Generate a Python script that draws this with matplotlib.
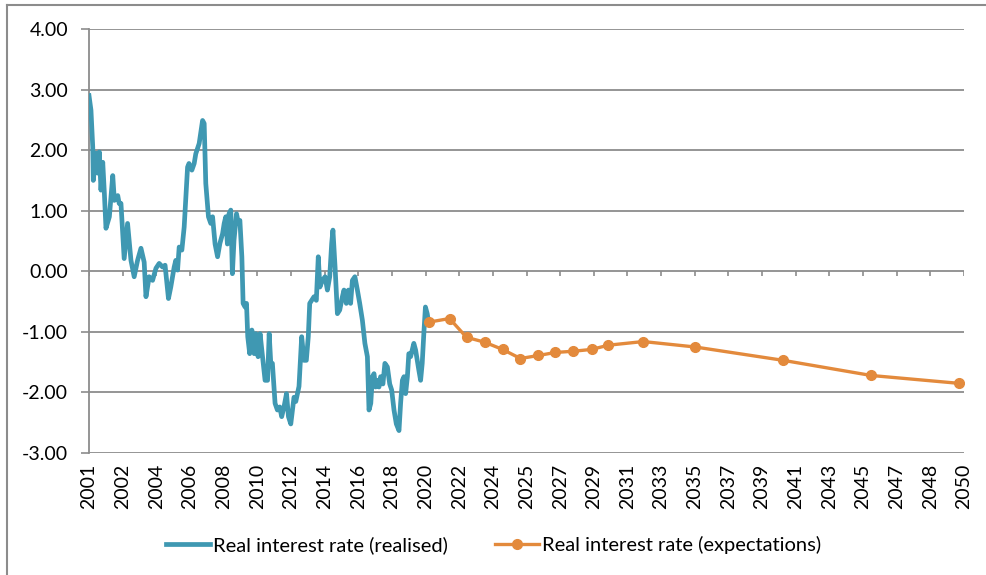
import numpy as np
import matplotlib.pyplot as plt
from matplotlib.lines import Line2D

# Realised real interest rate (decimal year, %)
real_t = [2001.00, 2001.11, 2001.21, 2001.24, 2001.39, 2001.49, 2001.58, 2001.67, 2001.77, 2001.86,
          2001.95, 2002.14, 2002.33, 2002.42, 2002.61, 2002.69, 2002.79, 2002.97, 2003.16, 2003.35,
          2003.53, 2003.72, 2003.91, 2004.09, 2004.19, 2004.37, 2004.56, 2004.75, 2004.93, 2005.12,
          2005.26, 2005.45, 2005.58, 2005.77, 2005.86, 2005.96, 2006.05, 2006.20, 2006.33, 2006.52,
          2006.60, 2006.76, 2006.89, 2006.98, 2007.17, 2007.36, 2007.45, 2007.54, 2007.69, 2007.82,
          2007.92, 2008.06, 2008.20, 2008.33, 2008.48, 2008.57, 2008.66, 2008.75, 2008.84, 2008.94,
          2009.03, 2009.12, 2009.26, 2009.37, 2009.45, 2009.56, 2009.63, 2009.74, 2009.82, 2009.89,
          2010.00, 2010.12, 2010.25, 2010.34, 2010.47, 2010.58, 2010.72, 2010.86, 2011.00, 2011.09,
          2011.18, 2011.27, 2011.42, 2011.55, 2011.68, 2011.79, 2011.92, 2012.06, 2012.17, 2012.30,
          2012.48, 2012.58, 2012.76, 2012.91, 2013.04, 2013.17, 2013.28, 2013.36, 2013.47, 2013.60,
          2013.73, 2013.84, 2013.93, 2014.07, 2014.22, 2014.35, 2014.48, 2014.59, 2014.66, 2014.78,
          2014.91, 2015.04, 2015.19, 2015.28, 2015.41, 2015.53, 2015.65, 2015.75, 2015.89, 2016.03,
          2016.16, 2016.31, 2016.45, 2016.59, 2016.68, 2016.78, 2016.87, 2016.96, 2017.05, 2017.15,
          2017.24, 2017.33, 2017.46, 2017.57, 2017.71, 2017.84, 2017.95, 2018.08, 2018.21, 2018.36,
          2018.45, 2018.55, 2018.64, 2018.73, 2018.83, 2018.91, 2019.01, 2019.10, 2019.19, 2019.29,
          2019.38, 2019.47, 2019.57, 2019.66, 2019.75, 2019.84, 2019.94, 2020.03]
real_v = [2.90, 2.66, 2.05, 1.50, 1.95, 1.62, 1.97, 1.34, 1.80, 1.29,
          0.71, 0.90, 1.58, 1.17, 1.25, 1.12, 1.12, 0.21, 0.79, 0.18,
          -0.09, 0.18, 0.38, 0.15, -0.42, -0.09, -0.15, 0.05, 0.13, 0.07,
          0.10, -0.45, -0.26, 0.07, 0.18, 0.02, 0.40, 0.35, 0.73, 1.72,
          1.78, 1.67, 1.78, 1.94, 2.11, 2.49, 2.44, 1.45, 0.90, 0.79,
          0.90, 0.45, 0.24, 0.46, 0.62, 0.79, 0.90, 0.45, 0.95, 1.01,
          -0.04, 0.51, 0.95, 0.79, 0.84, 0.24, -0.53, -0.59, -0.53, -1.08,
          -1.36, -0.97, -1.36, -1.03, -1.41, -1.03, -1.41, -1.80, -1.80, -1.03,
          -1.52, -1.52, -2.18, -2.29, -2.24, -2.40, -2.24, -2.02, -2.40, -2.52,
          -2.08, -2.15, -1.90, -1.08, -1.47, -1.47, -1.08, -0.53, -0.48, -0.42,
          -0.48, 0.24, -0.26, -0.15, -0.09, -0.31, -0.09, 0.46, 0.68, 0.07,
          -0.70, -0.64, -0.42, -0.31, -0.53, -0.31, -0.53, -0.15, -0.09, -0.31,
          -0.53, -0.81, -1.19, -1.41, -2.29, -2.18, -1.74, -1.69, -1.91, -1.80,
          -1.91, -1.74, -1.86, -1.52, -1.58, -1.86, -1.96, -2.29, -2.52, -2.63,
          -2.18, -1.80, -1.74, -2.02, -1.74, -1.36, -1.41, -1.30, -1.19, -1.30,
          -1.47, -1.63, -1.80, -1.52, -1.03, -0.59, -0.70, -0.86]

# Expectations
exp_t = [2020.02, 2021.19, 2022.14, 2023.15, 2024.16, 2025.16, 2026.17, 2027.12, 2028.13,
         2029.14, 2030.09, 2032.04, 2034.95, 2039.87, 2044.80, 2049.72]
exp_v = [-0.84, -0.78, -1.09, -1.17, -1.29, -1.44, -1.39, -1.34, -1.32,
         -1.29, -1.22, -1.16, -1.25, -1.47, -1.72, -1.85]

xlabels = ['2001', '2002', '2004', '2006', '2008', '2010', '2012', '2014', '2016', '2018',
           '2020', '2022', '2024', '2025', '2027', '2029', '2031', '2033', '2035', '2037',
           '2039', '2041', '2043', '2045', '2047', '2048', '2050']

blue = '#3f98b2'
orange = '#e38a3c'
grid = '#8c8c8c'

plt.rcParams['font.family'] = ['Lato', 'DejaVu Sans']

fig = plt.figure(figsize=(9.87, 5.75), dpi=100)
ax = fig.add_axes([89/987, 1 - 453/575, (964 - 89)/987, (453 - 29)/575])

ax.plot(real_t, real_v, color=blue, linewidth=3.4, solid_joinstyle='round', zorder=3)
ax.plot(exp_t, exp_v, color=orange, linewidth=2.4, marker='o', markersize=7, zorder=4)

ax.set_xlim(2001, 2050)
ax.set_ylim(-3, 4)
xt = np.linspace(2001, 2050, len(xlabels))
ax.set_xticks(xt)
ax.set_xticklabels(xlabels, rotation=90, fontsize=14)
ax.tick_params(axis='x', length=0, pad=8)
ax.set_yticks(np.arange(-3, 5, 1))
ax.set_yticklabels(['%.2f' % v for v in np.arange(-3, 5, 1)], fontsize=14)
ax.tick_params(axis='y', length=6, width=1.2, color=grid, pad=9)

ax.grid(axis='y', color=grid, linewidth=1.3)
ax.set_axisbelow(True)
for s in ['top', 'right', 'bottom']:
    ax.spines[s].set_visible(False)
ax.spines['left'].set_color(grid)
ax.spines['left'].set_linewidth(1.3)

# small category ticks on the zero line
ax.vlines(xt, -0.085, 0, color=grid, linewidth=1.2, zorder=1)

handles = [Line2D([], [], color=blue, linewidth=3.4),
           Line2D([], [], color=orange, linewidth=2.4, marker='o', markersize=7)]
fig.legend(handles, ['Real interest rate (realised)', 'Real interest rate (expectations)'],
           loc='center', bbox_to_anchor=(0.5, 1 - 545/575), ncol=2, frameon=False,
           fontsize=14.5, handlelength=2.2, handletextpad=0.15, columnspacing=2.3)

# chart border
fig.add_artist(Line2D([6.5/987, 6.5/987], [0, 1 - 4.5/575], color='#8c8c8c', linewidth=1.5))
fig.add_artist(Line2D([6.5/987, 1], [1 - 4.5/575, 1 - 4.5/575], color='#8c8c8c', linewidth=1.5))

fig.savefig('out.png', dpi=100)
